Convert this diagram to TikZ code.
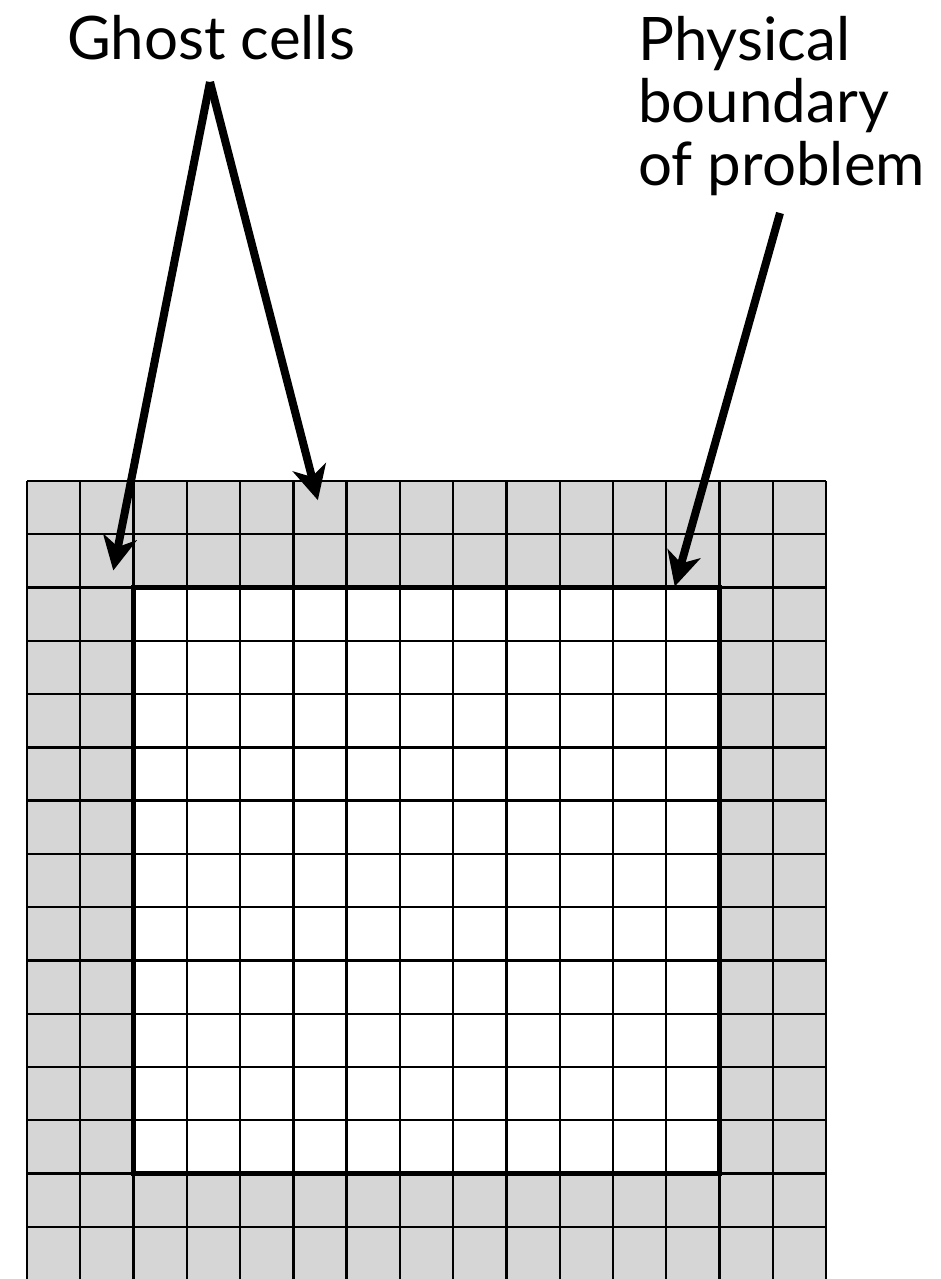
\documentclass[tikz,border=0pt]{standalone}
\usepackage{fontspec}
\setmainfont{Lato}
\usepackage{xcolor}
\usepackage{tikz}
\usetikzlibrary{arrows.meta}

\definecolor{ghostgray}{RGB}{214,214,214}

\begin{document}
\begin{tikzpicture}[x=1pt,y=-1pt,>={Stealth[length=34pt,width=34pt,inset=10pt]},
    label/.style={font=\fontsize{60}{62.5}\selectfont,inner sep=0pt},
    pointer/.style={->,line width=8pt},
    gridline/.style={line width=2.3pt},
    boundline/.style={line width=5pt}]
  \useasboundingbox (0,0) rectangle (941,1279);
  % grid of cells, 2 ghost layers round 11x11 interior
  \begin{scope}[shift={(27,481)},x=53.27pt,y=-53.27pt]
    \fill[ghostgray] (0,0) rectangle (15,15);
    \fill[white] (2,2) rectangle (13,13);
    \foreach \i in {0,...,15} {
      \draw[gridline] (\i,0) -- (\i,15);
      \draw[gridline] (0,\i) -- (15,\i);
    }
    \draw[boundline] (2,2) rectangle (13,13);
    \coordinate (ghostL) at (1.62,1.68);
    \coordinate (ghostT) at (5.46,0.36);
    \coordinate (physB) at (12.16,1.98);
  \end{scope}
  \node[label,anchor=base] (ghost) at (211,60) {Ghost cells};
  \node[label,anchor=base west,align=left] (phys) at (638,185) {Physical\\boundary\\of problem};
  \coordinate (apex) at (210,82);
  \coordinate (physfoot) at (780,213);
  \draw[pointer] (apex) -- (ghostL);
  \draw[pointer] (apex) -- (ghostT);
  \draw[pointer] (physfoot) -- (physB);
\end{tikzpicture}
\end{document}
